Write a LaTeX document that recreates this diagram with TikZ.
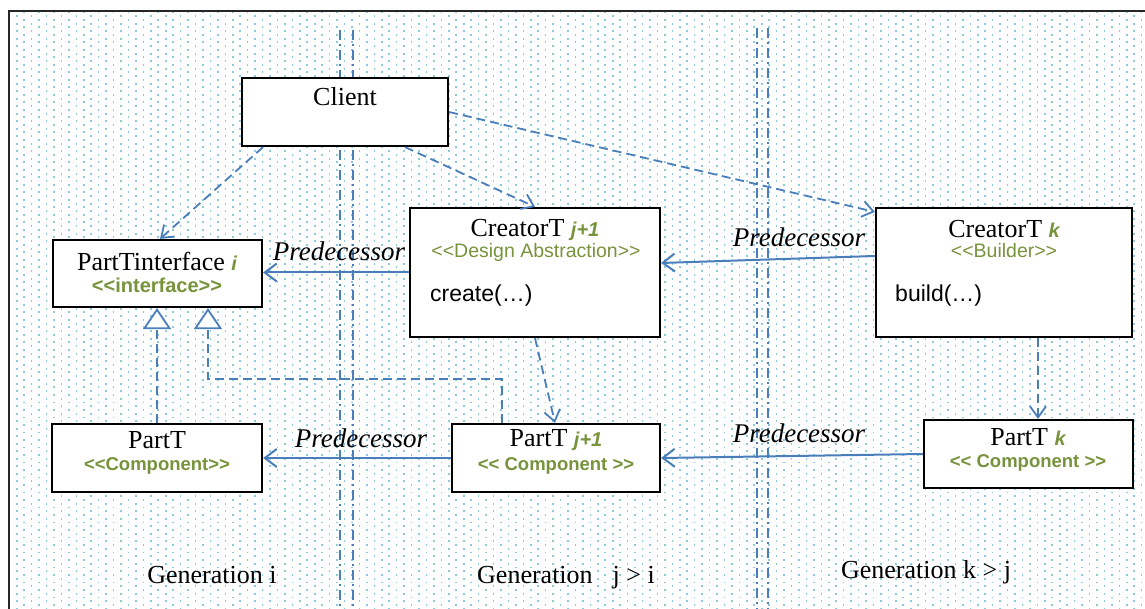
\documentclass[tikz,border=0pt]{standalone}
\usepackage{fontspec}
\setmainfont{Liberation Serif}
\setsansfont{Liberation Sans}
\usetikzlibrary{arrows.meta}

\definecolor{umlblue}{RGB}{74,126,187}
\definecolor{umlgreen}{RGB}{119,147,60}
\definecolor{gridcol}{RGB}{140,202,222}

\newcommand{\titlefont}{\fontsize{26}{30}\selectfont\rmfamily}
\newcommand{\stereofont}{\fontsize{19.5}{22}\selectfont\sffamily}
\newcommand{\stereoboldfont}{\fontsize{18.5}{22}\selectfont\sffamily\bfseries}
\newcommand{\opfont}{\fontsize{23}{27}\selectfont\sffamily}
\newcommand{\gen}[1]{{\fontsize{20}{24}\selectfont\sffamily\bfseries\itshape\color{umlgreen}#1}}

\tikzset{
  umlbox/.style={draw=black, line width=2.2pt, fill=white, inner sep=0pt},
  title/.style={font=\titlefont, inner sep=0pt, anchor=center},
  stereo/.style={font=\stereofont, text=umlgreen, inner sep=0pt},
  stereobold/.style={font=\stereoboldfont, text=umlgreen, inner sep=0pt},
  oper/.style={font=\opfont, inner sep=0pt, anchor=west},
  predlabel/.style={font=\fontsize{27}{30}\selectfont\rmfamily\itshape, inner sep=0pt},
  genlabel/.style={font=\titlefont, inner sep=0pt},
  pred/.style={draw=umlblue, line width=2pt, -{Straight Barb[length=12pt,width=18pt]}},
  dep/.style={draw=umlblue, line width=1.8pt, dash pattern=on 9pt off 5pt,
              -{Straight Barb[length=11pt,width=16pt]}},
  realize/.style={draw=umlblue, line width=1.8pt, dash pattern=on 9pt off 5pt,
              -{Triangle[open,fill=white,length=21pt,width=28pt]}},
  separator/.style={draw=umlblue, line width=1.8pt, dash pattern=on 10pt off 4pt on 2pt off 4pt},
  griddots/.style={gridcol, line width=1.6pt, dash pattern=on 1.8pt off 5.7pt},
}

\begin{document}
\begin{tikzpicture}[x=1pt,y=-1pt]
\useasboundingbox (0,0) rectangle (1145,609);

% dotted grid background: staggered columns of small square dots
\begin{scope}
  \clip (9,11) rectangle (1145,609);
  \foreach \x in {16.7,31.6,...,1150}
    \draw[griddots] (\x,15.25) -- (\x,612);
  \foreach \x in {24.15,39.05,...,1150}
    \draw[griddots] (\x,11.5) -- (\x,612);
\end{scope}

% frame (top and left edges)
\draw[black!85, line width=2pt] (9,609) -- (9,11) -- (1145,11);

% generation separators
\draw[separator] (340,30) -- (340,609);
\draw[separator] (353,30) -- (353,609);
\draw[separator] (757,28) -- (757,609);
\draw[separator] (768,28) -- (768,609);

% classes
\node[umlbox, minimum width=206pt, minimum height=68pt] (client) at (345,112) {};
\node[umlbox, minimum width=209pt, minimum height=67pt] (iface) at (157.5,273.5) {};
\node[umlbox, minimum width=250pt, minimum height=129pt] (cj) at (535,272.5) {};
\node[umlbox, minimum width=256pt, minimum height=129pt] (ck) at (1004,272.5) {};
\node[umlbox, minimum width=210pt, minimum height=68pt] (pi) at (157,458) {};
\node[umlbox, minimum width=208pt, minimum height=68pt] (pj) at (556,458) {};
\node[umlbox, minimum width=209pt, minimum height=68pt] (pk) at (1028.5,454) {};

% class texts
\node[title] (client-t) at (345,97) {Client};

\node[title] (iface-t) at (157,261) {PartTinterface \gen{i}};
\node[stereobold, font=\fontsize{20}{22}\selectfont\sffamily\bfseries] (iface-s) at (157,285) {<{}<interface>{}>};

\node[title] (cj-t) at (535,230) {CreatorT \gen{j+1}};
\node[stereo] (cj-s) at (536,252) {<{}<Design Abstraction>{}>};
\node[oper] (cj-o) at (430,296) {create(…)};

\node[title] (ck-t) at (1004,229) {CreatorT \gen{k}};
\node[stereo] (ck-s) at (1004,251) {<{}<Builder>{}>};
\node[oper] (ck-o) at (895,296) {build(…)};

\node[title] (pi-t) at (157,440) {PartT};
\node[stereobold] (pi-s) at (157,466) {<{}<Component>{}>};

\node[title] (pj-t) at (556,440) {PartT \gen{j+1}};
\node[stereobold] (pj-s) at (556,466) {<{}< Component >{}>};

\node[title] (pk-t) at (1028,437) {PartT \gen{k}};
\node[stereobold] (pk-s) at (1028,463) {<{}< Component >{}>};

% predecessor associations
\draw[pred] (cj.west) -- (cj.west -| iface.east);
\draw[pred] ([yshift=16.5pt]ck.west) -- ([yshift=9.5pt]cj.east);
\draw[pred] (pj.west) -- (pj.west -| pi.east);
\draw[pred] (pk.west) -- (pj.east);

\node[predlabel] (pl1) at (339,251) {Predecessor};
\node[predlabel] (pl2) at (799,237) {Predecessor};
\node[predlabel] (pl3) at (361,438) {Predecessor};
\node[predlabel] (pl4) at (799,433) {Predecessor};

% client dependencies
\draw[dep] ([xshift=-82pt]client.south) -- ([xshift=2.5pt]iface.north);
\draw[dep] ([xshift=60pt]client.south) -- (cj.north);
\draw[dep] (client.east) -- ([yshift=-5pt]ck.north west);

% creation dependencies
\draw[dep] (cj.south) -- ([xshift=-1pt]pj.north);
\draw[dep] ([xshift=34pt]ck.south) -- ([xshift=34pt]ck.south |- pk.north);

% interface realizations
\draw[realize] (pi.north) -- (pi.north |- iface.south);
\draw[realize] ([xshift=-54pt]pj.north) -- ++(0,-44) -| ([xshift=50.5pt]iface.south);

% generation captions
\node[genlabel] (g1) at (212,575) {Generation i};
\node[genlabel] (g2) at (566,578) {Generation\hspace{20pt}j > i};
\node[genlabel] (g3) at (926,572) {Generation k > j};
\end{tikzpicture}
\end{document}
